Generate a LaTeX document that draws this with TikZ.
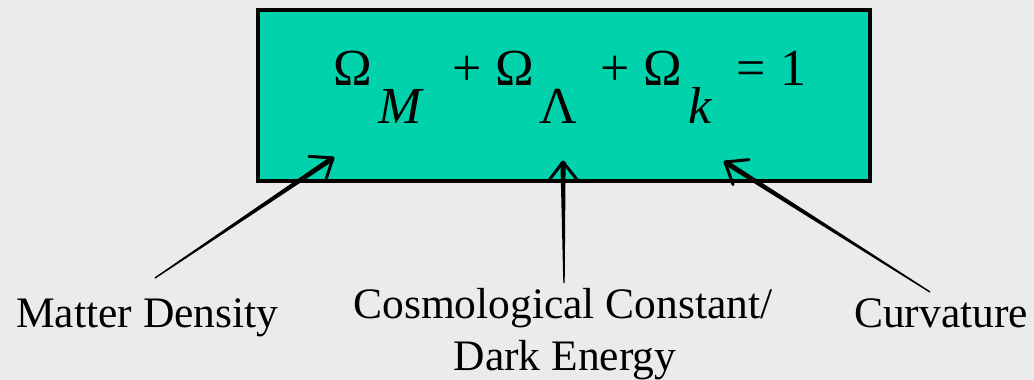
\documentclass[tikz,border=0pt]{standalone}
\usepackage{fontspec}
\setmainfont{Liberation Serif}
\usetikzlibrary{calc}
\definecolor{bggray}{RGB}{235,235,235}
\definecolor{teal}{RGB}{0,211,172}
\tikzset{
  eq/.style={inner sep=0pt, anchor=base west, font=\fontsize{52}{60}\selectfont},
  eqsub/.style={eq, font=\fontsize{52}{60}\selectfont\itshape},
  lbl/.style={inner sep=0pt, anchor=base west, font=\fontsize{43.5}{50}\selectfont},
  shaft/.style={fill=black},
  barb/.style={draw=black, line width=3pt, line cap=round, line join=round}
}
\newcommand\skarrow[2]{%
  \fill[shaft] ($(#2)!2.6pt!90:(#1)$) -- ($(#2)!2.6pt!-90:(#1)$) -- ($(#1)!0.7pt!90:(#2)$) -- ($(#1)!0.7pt!-90:(#2)$) -- cycle;
  \draw[barb] ($(#2)!24pt!38:(#1)$) -- (#2) -- ($(#2)!24pt!-38:(#1)$);}
\begin{document}
\begin{tikzpicture}[x=1pt,y=-1pt]
\fill[bggray] (0,0) rectangle (1034,380);
\useasboundingbox (0,0) rectangle (1034,380);
\draw[fill=teal, line width=3.5pt] (258,10) rectangle (870,181);
% equation
\node[eq] (o1) at (333,85) {Ω};
\node[eqsub] (sm) at (378,123) {M};
\node[eq] (p1) at (452,85) {+};
\node[eq] (o2) at (495,85) {Ω};
\node[eq] (sl) at (539,123) {Λ};
\node[eq] (p2) at (600,85) {+};
\node[eq] (o3) at (643,85) {Ω};
\node[eqsub] (sk) at (688,123) {k};
\node[eq] (eqs) at (736,85) {=};
\node[eq] (one) at (780,85) {1};
% labels
\node[lbl] (md) at (16,327) {Matter Density};
\node[lbl, anchor=base] (cc) at (563,318) {Cosmological Constant/};
\node[lbl, anchor=base] (de) at (565,370) {Dark Energy};
\node[lbl] (cv) at (854,327) {Curvature};
% arrow ends
\coordinate (t1) at (155,278);
\coordinate (h1) at (333,158);
\coordinate (t2) at (564,283);
\coordinate (h2) at (563,162);
\coordinate (t3) at (930,292);
\coordinate (h3) at (725,162);
\skarrow{t1}{h1}
\skarrow{t2}{h2}
\skarrow{t3}{h3}
\end{tikzpicture}
\end{document}
